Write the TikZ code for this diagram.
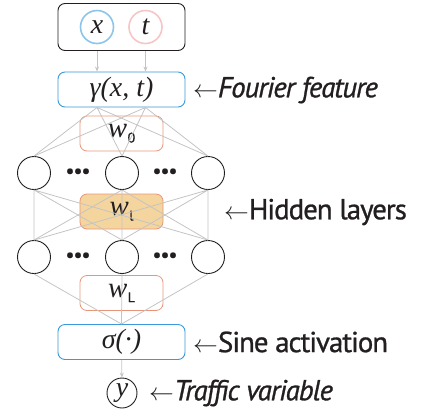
\documentclass[tikz,border=0pt]{standalone}
\usepackage{fontspec}
\setmainfont{PT Sans}[LetterSpace=-3.5,FakeBold=0.9]
\newfontfamily\nnserif{Liberation Serif}
\definecolor{nnText}{HTML}{231F20}
\definecolor{nnBlue}{HTML}{3A9AD9}
\definecolor{nnSky}{HTML}{8CC4EA}
\definecolor{nnPink}{HTML}{F6C6C6}
\definecolor{nnOrange}{HTML}{E8957A}
\definecolor{nnSand}{HTML}{F5D59E}
\definecolor{nnWire}{HTML}{C4C4C4}
\usetikzlibrary{positioning,arrows.meta}
\newcommand{\symb}[1]{{\nnserif\itshape\fontsize{28}{30}\selectfont #1}}
\newcommand{\wsub}[1]{{\nnserif\itshape\fontsize{29}{30}\selectfont w}\kern0.5pt\raisebox{-5pt}{\fontsize{14}{16}\selectfont #1}}

\begin{document}
\begin{tikzpicture}[x=1bp, y=-1bp,
  frame/.style={rounded corners=7bp, draw=nnText, line width=0.9bp,
    minimum width=127bp, minimum height=47bp},
  layer/.style={rounded corners=7bp, draw=nnBlue, line width=0.9bp,
    minimum width=127bp, minimum height=35bp, text=nnText},
  weight/.style={rounded corners=7bp, draw=nnOrange, line width=0.8bp,
    minimum width=83bp, minimum height=35bp, text=nnText},
  neuron/.style={circle, draw=nnText, line width=0.9bp, minimum size=33bp,
    inner sep=0pt},
  var/.style={circle, line width=1.6bp, minimum size=33bp, inner sep=0pt,
    text=nnText},
  dots/.style={text=nnText, font=\fontsize{20}{20}\selectfont, inner sep=0pt},
  note/.style={anchor=west, text=nnText, font=\fontsize{29}{32}\selectfont,
    inner sep=0pt},
  wire/.style={draw=nnWire, line width=0.8bp},
  arr/.style={-{Stealth[length=5bp, width=4bp]}, draw=nnWire, line width=0.8bp}
]
  \useasboundingbox (0,0) rectangle (424,416);

  % inputs
  \node[frame] (input) at (121.5,27) {};
  \node[var, draw=nnSky] (xin) at (97,27) {\symb{x}};
  \node[var, draw=nnPink] (tin) at (145.5,27) {\symb{t}};

  % fourier feature
  \node[layer] (fourier) at (121.5,89.5) {\symb{γ(x, t)}};
  \coordinate (fx) at (xin |- fourier.south);
  \coordinate (ft) at (tin |- fourier.south);

  % weights
  \node[weight] (w0) at (121.5,133.5) {\wsub{0}};
  \node[weight, fill=nnSand] (w1) at (121.5,211.5) {\wsub{l}};
  \node[weight] (wL) at (121.5,293) {\wsub{L}};

  % hidden neurons
  \node[neuron] (a1) at (34,173) {};
  \node[neuron] (a2) at (122,173) {};
  \node[neuron] (a3) at (208,173) {};
  \node[neuron] (b1) at (34,257) {};
  \node[neuron] (b2) at (122,257) {};
  \node[neuron] (b3) at (208,257) {};
  \node[dots] (da1) at (78,173) {•\kern-1pt•\kern-1pt•};
  \node[dots] (da2) at (165,173) {•\kern-1pt•\kern-1pt•};
  \node[dots] (db1) at (78,257) {•\kern-1pt•\kern-1pt•};
  \node[dots] (db2) at (165,257) {•\kern-1pt•\kern-1pt•};

  % activation and output
  \node[layer] (sine) at (121.5,342) {\symb{σ(·)}};
  \node[neuron, minimum size=30bp, text=nnText] (yout) at (122,393) {\symb{y}};

  % connections
  \draw[arr] (xin |- input.south) -- (fx |- fourier.north);
  \draw[arr] (tin |- input.south) -- (ft |- fourier.north);
  \draw[wire] (fx) -- (a1.north) (fx) -- (a2.north) (fx) -- (a3.north);
  \draw[wire] (ft) -- (a1.north) (ft) -- (a2.north) (ft) -- (a3.north);
  \draw[wire] (a1.south) -- (b1.north) (a1.south) -- (b2.north) (a1.south) -- (b3.north);
  \draw[wire] (a2.south) -- (b1.north) (a2.south) -- (b2.north) (a2.south) -- (b3.north);
  \draw[wire] (a3.south) -- (b1.north) (a3.south) -- (b2.north) (a3.south) -- (b3.north);
  \draw[wire] (b1.south) -- (sine.north) (b2.south) -- (sine.north) (b3.south) -- (sine.north);
  \draw[arr] (sine) -- (yout);

  % notes
  \node[note] (nfourier) at (193,90) {$\leftarrow$\textit{Fourier feature}};
  \node[note] (nhidden) at (224,212) {$\leftarrow$Hidden layers};
  \node[note] (nsine) at (193,342) {$\leftarrow$Sine activation};
  \node[note] (ntraffic) at (149,393) {$\leftarrow$\textit{Traffic variable}};
\end{tikzpicture}
\end{document}
